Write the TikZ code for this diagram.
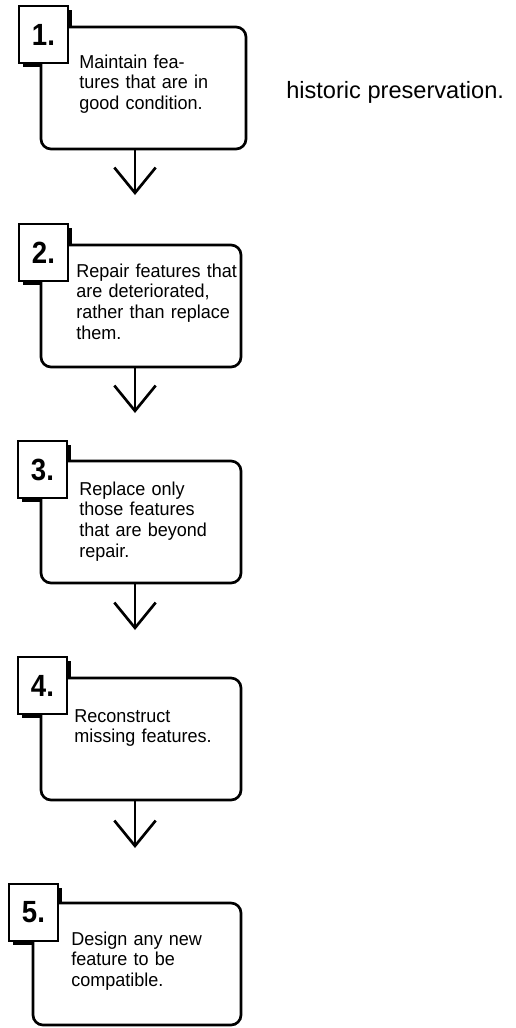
\documentclass[tikz,border=0pt]{standalone}
\usepackage{fontspec}
\setmainfont{Liberation Sans}
\newfontfamily\narrowsans[FakeStretch=0.965]{Liberation Sans}
\newfontfamily\narrowbold[FakeStretch=0.9]{Liberation Sans Bold}
\usepackage{tikz}
\usetikzlibrary{arrows.meta, positioning, backgrounds}
\newcommand{\stepfont}{\narrowsans\fontsize{14}{15.5}\selectfont}
\newcommand{\numfont}{\narrowbold\fontsize{23}{26}\selectfont}
\newcommand{\capfont}{\fontsize{17.7}{20}\selectfont}
\tikzset{
    stepbox/.style={rectangle, draw, line width=2pt, rounded corners=7.5pt, fill=white, minimum width=150pt, minimum height=91.5pt, inner sep=0pt, outer sep=0pt, anchor=north west},
    numbox/.style={rectangle, draw, line width=2pt, fill=white, minimum width=36.75pt, minimum height=42.75pt, inner sep=0pt, outer sep=0pt, font=\numfont},
    numshadow/.style={fill=black},
    steptext/.style={text width=124pt, align=left, inner sep=0pt, anchor=base west, font=\stepfont},
    flow/.style={draw, line width=2pt, -{Straight Barb[length=19pt, width=31pt]}}
}

\begin{document}
\begin{tikzpicture}[x=0.75pt, y=-0.75pt]
    \useasboundingbox (0,0) rectangle (515,1028);

    % Step boxes
    \node [stepbox, minimum width=153.75pt] (s1) at (41,27) {};
    \node [stepbox] (s2) at (41,245) {};
    \node [stepbox] (s3) at (41,461) {};
    \node [stepbox] (s4) at (41,678) {};
    \node [stepbox, minimum width=156pt] (s5) at (33,903) {};

    % Numbers
    \node [numbox, anchor=north west] (n1) at ([shift={(-22,-21)}]s1.north west) {1.};
    \node [numbox, anchor=north west] (n2) at ([shift={(-22,-21)}]s2.north west) {2.};
    \node [numbox, anchor=north west] (n3) at ([shift={(-23,-20)}]s3.north west) {3.};
    \node [numbox, anchor=north west] (n4) at ([shift={(-23,-21)}]s4.north west) {4.};
    \node [numbox, anchor=north west] (n5) at ([shift={(-24,-19)}]s5.north west) {5.};

    \begin{pgfonlayer}{background}
        \foreach \n in {n1,n2,n3,n4,n5}
            \fill [numshadow] ([shift={(4,4)}]\n.north west) rectangle ([shift={(4,4)}]\n.south east);
    \end{pgfonlayer}

    % Texts
    \node [steptext] (t1) at ([shift={(38,41)}]s1.north west) {Maintain fea-\\tures that are in\\good condition.};
    \node [steptext] (t2) at ([shift={(35,32)}]s2.north west) {Repair features that\\are deteriorated,\\rather than replace\\them.};
    \node [steptext] (t3) at ([shift={(38,34)}]s3.north west) {Replace only\\those features\\that are beyond\\repair.};
    \node [steptext] (t4) at ([shift={(33,44)}]s4.north west) {Reconstruct\\missing features.};
    \node [steptext] (t5) at ([shift={(38,42)}]s5.north west) {Design any new\\feature to be\\compatible.};

    \node [anchor=base west, inner sep=0pt, font=\capfont] (cap) at (286,98) {historic preservation.};

    % Arrows
    \coordinate (e1) at (135,195);
    \coordinate (e2) at (135,413);
    \coordinate (e3) at (135,630);
    \coordinate (e4) at (135,848);
    \path [flow] (e1 |- s1.south) -- (e1);
    \path [flow] (e2 |- s2.south) -- (e2);
    \path [flow] (e3 |- s3.south) -- (e3);
    \path [flow] (e4 |- s4.south) -- (e4);
\end{tikzpicture}
\end{document}
